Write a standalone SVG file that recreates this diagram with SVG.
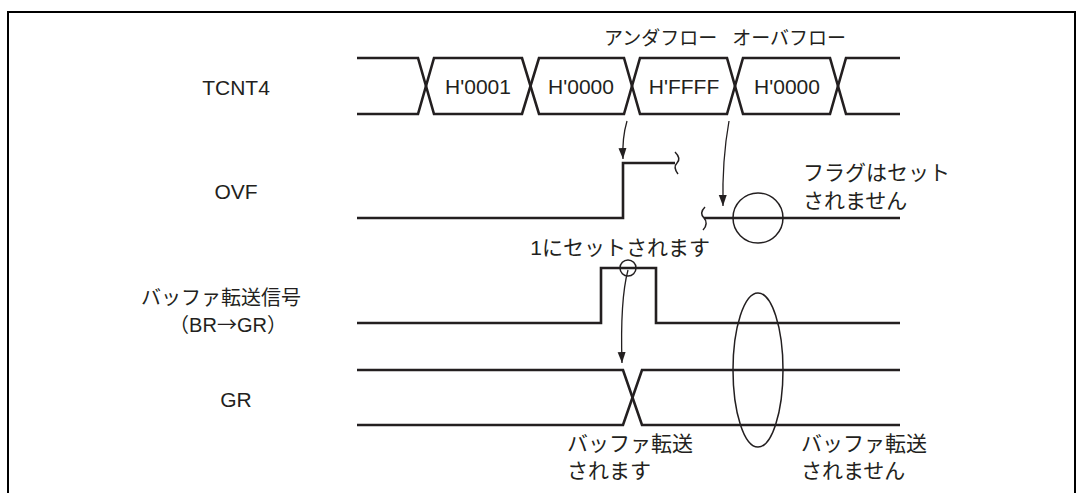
<svg xmlns="http://www.w3.org/2000/svg" width="1083" height="493" viewBox="0 0 1083 493">
<style>
  .sig { fill: none; stroke: #231f20; stroke-width: 2.6; stroke-linejoin: miter; }
  .thin { fill: none; stroke: #231f20; stroke-width: 1.5; }
  .arr { fill: none; stroke: #231f20; stroke-width: 1.3; marker-end: url(#ah); }
  .frame { fill: none; stroke: #000; stroke-width: 2; }
  text { font-family: "Liberation Sans", "Noto Sans CJK JP", sans-serif; font-size: 21px; fill: #231f20; }
  .hex { font-size: 21px; text-anchor: middle; }
  .lbl { font-size: 21px; text-anchor: middle; }
  .lblj { font-size: 20px; text-anchor: middle; }
  .top { font-size: 19px; }
  .cjk { font-family: "Noto Sans CJK JP", sans-serif; }
</style>
<defs>
  <marker id="ah" markerUnits="userSpaceOnUse" markerWidth="12" markerHeight="10" refX="11" refY="4" orient="auto">
    <path d="M0,0 L11,4 L0,8 Z" fill="#231f20"/>
  </marker>
</defs>
<rect width="1083" height="493" fill="#fff"/>
<path class="frame" d="M8,494 V12 H1075 V494"/>

<g id="label-tcnt4"><text class="lbl" x="236" y="94.5">TCNT4</text></g>
<g id="label-ovf"><text class="lbl" x="236" y="198.5">OVF</text></g>
<g id="label-buf">
  <text class="lblj" x="221" y="304.5">バッファ転送信号</text>
  <text class="lblj" x="228" y="331.5"><tspan class="cjk">（</tspan>BR<tspan class="cjk">→</tspan>GR<tspan class="cjk">）</tspan></text>
</g>
<g id="label-gr"><text class="lbl" x="236" y="406.5">GR</text></g>

<g id="tcnt4">
  <path class="sig" d="M357,58 H418 L434,114 H522 L539,58 H624 L640,114 H727 L743,58 H830 L846,114 H900"/>
  <path class="sig" d="M357,114 H418 L434,58 H522 L539,114 H624 L640,58 H727 L743,114 H830 L846,58 H900"/>
  <text class="hex" x="478" y="93.5">H'0001</text>
  <text class="hex" x="581" y="93.5">H'0000</text>
  <text class="hex" x="684" y="93.5">H'FFFF</text>
  <text class="hex" x="787" y="93.5">H'0000</text>
</g>

<g id="note-flow">
  <text class="top" x="604" y="44.5">アンダフロー</text>
  <text class="top" x="846" y="44.5" text-anchor="end">オーバフロー</text>
</g>

<g id="ovf">
  <path class="sig" d="M357,218 H623 V163 H675"/>
  <path class="thin" d="M675,152 C679,156 680,160 677,163 C674,166 675,170 678,174"/>
  <path class="thin" d="M705,207 C701,211 701,215 704,218 C707,221 707,226 703,230"/>
  <path class="sig" d="M704,218 H900"/>
  <circle class="thin" cx="758" cy="218" r="25"/>
</g>

<g id="note-notset">
  <text x="803" y="179.5">フラグはセット</text>
  <text x="803" y="207.5">されません</text>
</g>

<g id="note-set"><text x="710" y="254.5" text-anchor="end">1にセットされます</text></g>

<g id="buf">
  <path class="sig" d="M357,323 H601 V268 H656 V323 H900"/>
  <circle class="thin" cx="628" cy="268" r="8"/>
</g>

<g id="gr">
  <path class="sig" d="M357,370 H623 L642,425 H900"/>
  <path class="sig" d="M357,425 H623 L642,370 H900"/>
  <ellipse class="thin" cx="758" cy="370" rx="25" ry="77"/>
</g>

<g id="note-transfer">
  <text x="567" y="450.5">バッファ転送</text>
  <text x="567" y="477.5">されます</text>
</g>
<g id="note-notransfer">
  <text x="801" y="450.5">バッファ転送</text>
  <text x="801" y="477.5">されません</text>
</g>

<g id="connectors">
  <path class="arr" d="M627,121 Q622,138 623,159"/>
  <path class="arr" d="M729,121 Q722,160 723,206"/>
  <path class="arr" d="M628,270 Q620,300 622,363"/>
</g>
</svg>
